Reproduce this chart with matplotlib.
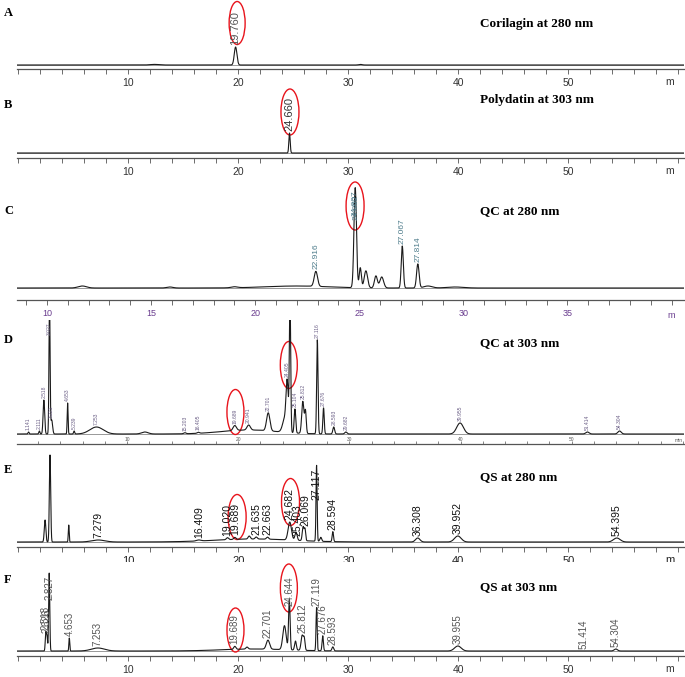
"""HPLC chromatograms: corilagin / polydatin standards, QC and QS samples."""
import numpy as np
import matplotlib
matplotlib.use("Agg")
import matplotlib.pyplot as plt
from matplotlib.patches import Ellipse

W, H = 685, 677

# ---- data: peaks (retention time min, height, width) and labelled peaks ----
a_rt = [12.4, 19.76, 31.1]
a_h = [0.6, 18, 0.6]
a_w = [0.4, 0.12, 0.15]
a_lab_rt = [19.76]
a_lab = ["19.760"]

b_rt = [24.66]
b_h = [20]
b_w = [0.06]
b_lab_rt = [24.66]
b_lab = ["24.660"]

c_rt = [11.7, 15.9, 19.0, 22.0, 22.916, 24.807, 25.05, 25.32, 25.8, 26.08,
        27.067, 27.814, 28.3, 29.6]
c_h = [2, 1, 1, 2, 15, 100, 20, 17, 12, 11, 42, 24, 2, 1]
c_w = [0.2, 0.15, 0.15, 1.5, 0.08, 0.06, 0.05, 0.08, 0.07, 0.09, 0.05, 0.06,
       0.2, 0.4]
c_lab_rt = [22.916, 24.807, 24.862, 27.067, 27.814]
c_lab = ["22.916", "24.807", "24.862", "27.067", "27.814"]

d_rt = [1.141, 2.111, 2.518, 3.027, 3.22, 4.653, 5.239, 7.253, 11.6, 15.203,
        16.405, 21.0, 19.689, 20.941, 22.701, 24.2, 24.405, 24.66, 25.104,
        25.812, 26.05, 27.116, 27.676, 28.593, 29.682, 39.955, 51.414, 54.304]
d_h = [2, 3, 34, 135, 14, 31, 3, 7, 2, 1, 1, 4, 5, 5, 18, 14, 45, 135, 24,
       32, 22, 94, 26, 7, 2, 11, 2, 3]
d_w = [0.05, 0.05, 0.07, 0.05, 0.08, 0.04, 0.05, 0.6, 0.3, 0.1, 0.1, 2.5,
       0.15, 0.15, 0.15, 0.2, 0.1, 0.06, 0.07, 0.1, 0.07, 0.06, 0.06, 0.08,
       0.1, 0.3, 0.15, 0.15]
d_lab_rt = [1.141, 2.111, 2.518, 3.027, 3.22, 4.653, 5.239, 7.253, 15.203,
            16.405, 19.689, 20.941, 22.701, 24.405, 25.104, 25.812, 27.116,
            27.676, 28.593, 29.682, 39.955, 51.414, 54.304]
d_lab = ["1.141", "2.111", "2.518", "3.027", "3.221", "4.653", "5.239",
         "7.253", "15.203", "16.405", "19.689", "20.941", "22.701", "24.405",
         "25.104", "25.812", "27.116", "27.676", "28.593", "29.682", "39.955",
         "51.414", "54.304"]

e_rt = [2.45, 2.9, 4.6, 7.279, 16.409, 21.5, 19.02, 19.689, 21.0, 21.635,
        22.663, 24.682, 25.25, 25.9, 26.069, 27.117, 27.5, 28.594, 36.308,
        39.952, 54.395]
e_h = [22, 87, 17, 2, 1, 3, 2, 2, 3, 2, 2, 18, 8, 14, 11, 76, 4, 10, 4, 6, 4]
e_w = [0.07, 0.06, 0.04, 0.6, 0.2, 3.5, 0.1, 0.1, 0.1, 0.1, 0.1, 0.15, 0.1,
       0.08, 0.06, 0.05, 0.08, 0.06, 0.2, 0.3, 0.3]
e_lab_rt = [7.279, 16.409, 19.02, 19.689, 21.635, 22.663, 24.682, 25.403,
            26.069, 27.117, 28.594, 36.308, 39.952, 54.395]
e_lab = ["7.279", "16.409", "19.020", "19.689", "21.635", "22.663", "24.682",
         "25.403", "26.069", "27.117", "28.594", "36.308", "39.952", "54.395"]

f_rt = [2.518, 2.626, 2.827, 4.653, 7.253, 19.689, 20.8, 21.5, 22.701, 24.2,
        24.644, 25.2, 25.812, 26.0, 27.119, 27.676, 28.593, 39.955, 54.304]
f_h = [18, 14, 78, 13, 3, 3, 2, 2, 9, 24, 50, 9, 15, 11, 43, 15, 4, 5, 2]
f_w = [0.05, 0.05, 0.05, 0.04, 0.6, 0.1, 0.1, 3.0, 0.15, 0.15, 0.07, 0.08,
       0.1, 0.07, 0.05, 0.06, 0.08, 0.3, 0.15]
f_lab_rt = [2.518, 2.626, 2.827, 4.653, 7.253, 19.689, 22.701, 24.644,
            25.812, 27.119, 27.676, 28.593, 39.955, 51.414, 54.304]
f_lab = ["2.518", "2.626", "2.827", "4.653", "7.253", "19.689", "22.701",
         "24.644", "25.812", "27.119", "27.676", "28.593", "39.955", "51.414",
         "54.304"]

LABEL_FONT = ["Liberation Sans", "DejaVu Sans"]
SERIF = ["Liberation Serif", "DejaVu Serif"]

fig = plt.figure(figsize=(W / 100, H / 100), dpi=100)


def px_axes(top, bottom, left=17, right=684):
    return fig.add_axes([left / W, 1 - bottom / H, (right - left) / W,
                         (bottom - top) / H])


def panel(top, spine, gap, xlim, rt, h, w, lab_rt, lab, lab_color, lab_size,
          ticks, tick_color, tick_size, ellipses, lab_top=None, minor=2,
          tiny=False):
    ax = px_axes(top, spine)
    ymax = spine - top - gap
    ax.set_xlim(*xlim)
    ax.set_ylim(-gap, ymax)
    t = np.linspace(xlim[0], xlim[1], 8000)
    y = np.zeros_like(t)
    for r, hh, ww in zip(rt, h, w):
        y += hh * np.exp(-0.5 * ((t - r) / ww) ** 2)
    ax.plot(t, y, color="#1a1a1a", lw=0.8, clip_on=True)
    ax.axhline(0, color="#888888", lw=0.6, zorder=0)

    ppm = (684 - 17) / (xlim[1] - xlim[0])
    cap = ymax if lab_top is None else lab_top
    for r, s in zip(lab_rt, lab):
        yy = np.interp(r, t, y) + 2
        length = lab_size * 100 / 72 * 0.56 * len(s)
        yy = min(yy, cap - length)
        ax.text(r, yy, s, rotation=90, ha="center", va="bottom",
                fontsize=lab_size, color=lab_color, family=LABEL_FONT,
                clip_on=False)

    for cx, cy, ew, eh in ellipses:
        ax.add_patch(Ellipse((cx, cy), ew / ppm, eh, fill=False,
                             edgecolor="#e8141c", lw=1.0, clip_on=False))

    for side in ("left", "right", "top"):
        ax.spines[side].set_visible(False)
    ax.spines["bottom"].set_color("#555555")
    ax.spines["bottom"].set_linewidth(0.9)
    ax.set_yticks([])
    ax.set_xticks(np.arange(np.ceil(xlim[0] / minor) * minor, xlim[1], minor),
                  minor=True)
    ax.set_xticks(ticks)
    if tiny:
        ax.tick_params(axis="x", which="both", direction="in", length=2,
                       width=0.5, color="#555555", pad=-5,
                       labelsize=tick_size, labelcolor=tick_color)
    else:
        ax.tick_params(axis="x", which="both", direction="out", length=3.5,
                       width=0.6, color="#555555", pad=3,
                       labelsize=tick_size, labelcolor=tick_color)
    for lbl in ax.get_xticklabels():
        lbl.set_family(LABEL_FONT)
    return ax


def m_label(ax, x, color, size, dy=-13, text="m"):
    ax.annotate(text, (x, 0), xycoords=("data", "axes fraction"),
                xytext=(0, dy), textcoords="offset pixels", ha="center",
                va="center", fontsize=size, color=color, family=LABEL_FONT,
                annotation_clip=False)


wide = (-0.1, 60.5)
main_ticks = [10, 20, 30, 40, 50]

axA = panel(0, 69, 4, wide, a_rt, a_h, a_w, a_lab_rt, a_lab, "#555555", 8,
            main_ticks, "#333333", 7.5, [(19.9, 42, 16, 43)])
m_label(axA, 59.2, "#333333", 7.5)

axB = panel(88, 158, 5, wide, b_rt, b_h, b_w, b_lab_rt, b_lab, "#333333", 8,
            main_ticks, "#333333", 7.5, [(24.7, 41, 18, 46)])
m_label(axB, 59.2, "#333333", 7.5)

axC = panel(178, 300, 12, (8.56, 40.6), c_rt, c_h, c_w, c_lab_rt, c_lab,
            "#4f7d8c", 6, [10, 15, 20, 25, 30, 35], "#6a3d8f", 6.5,
            [(24.8, 82, 18, 48)], lab_top=100, minor=1)
m_label(axC, 40.0, "#6a3d8f", 6.5, dy=-15)

axD = panel(320, 444, 10, (0.1, 60.1), d_rt, d_h, d_w, d_lab_rt, d_lab,
            "#6b5f86", 3.6, [10, 20, 30, 40, 50], "#555555", 3.5,
            [(19.75, 22, 17, 45), (24.55, 69, 17, 47)], lab_top=113,
            tiny=True)
m_label(axD, 59.6, "#555555", 3.5, dy=3, text="min")

axE = panel(450, 547, 5, wide, e_rt, e_h, e_w, e_lab_rt, e_lab, "#111111",
            7.5, main_ticks, "#222222", 8,
            [(19.9, 25, 18, 45), (24.75, 40, 18, 47)], lab_top=77)
m_label(axE, 59.2, "#222222", 8)

axF = panel(562, 656, 5, wide, f_rt, f_h, f_w, f_lab_rt, f_lab, "#555555", 7,
            main_ticks, "#333333", 7.5,
            [(19.75, 21, 17, 44), (24.6, 63, 17, 48)], lab_top=78)
m_label(axF, 59.2, "#333333", 7.5)

# panel letters and titles
letters = ["A", "B", "C", "D", "E", "F"]
letter_y = [13, 105, 211, 340, 470, 580]
titles = ["Corilagin at 280 nm", "Polydatin at 303 nm", "QC at 280 nm",
          "QC at 303 nm", "QS at 280 nm", "QS at 303 nm"]
title_y = [24, 100, 211, 343, 477, 587]
for s, yy in zip(letters, letter_y):
    fig.text(4 / W, 1 - yy / H, s, fontsize=9, fontweight="bold",
             family=SERIF, va="center", ha="left")
for s, yy in zip(titles, title_y):
    fig.text(480 / W, 1 - yy / H, s, fontsize=9.5, fontweight="bold",
             family=SERIF, va="center", ha="left")

fig.savefig("out.png", dpi=100)
